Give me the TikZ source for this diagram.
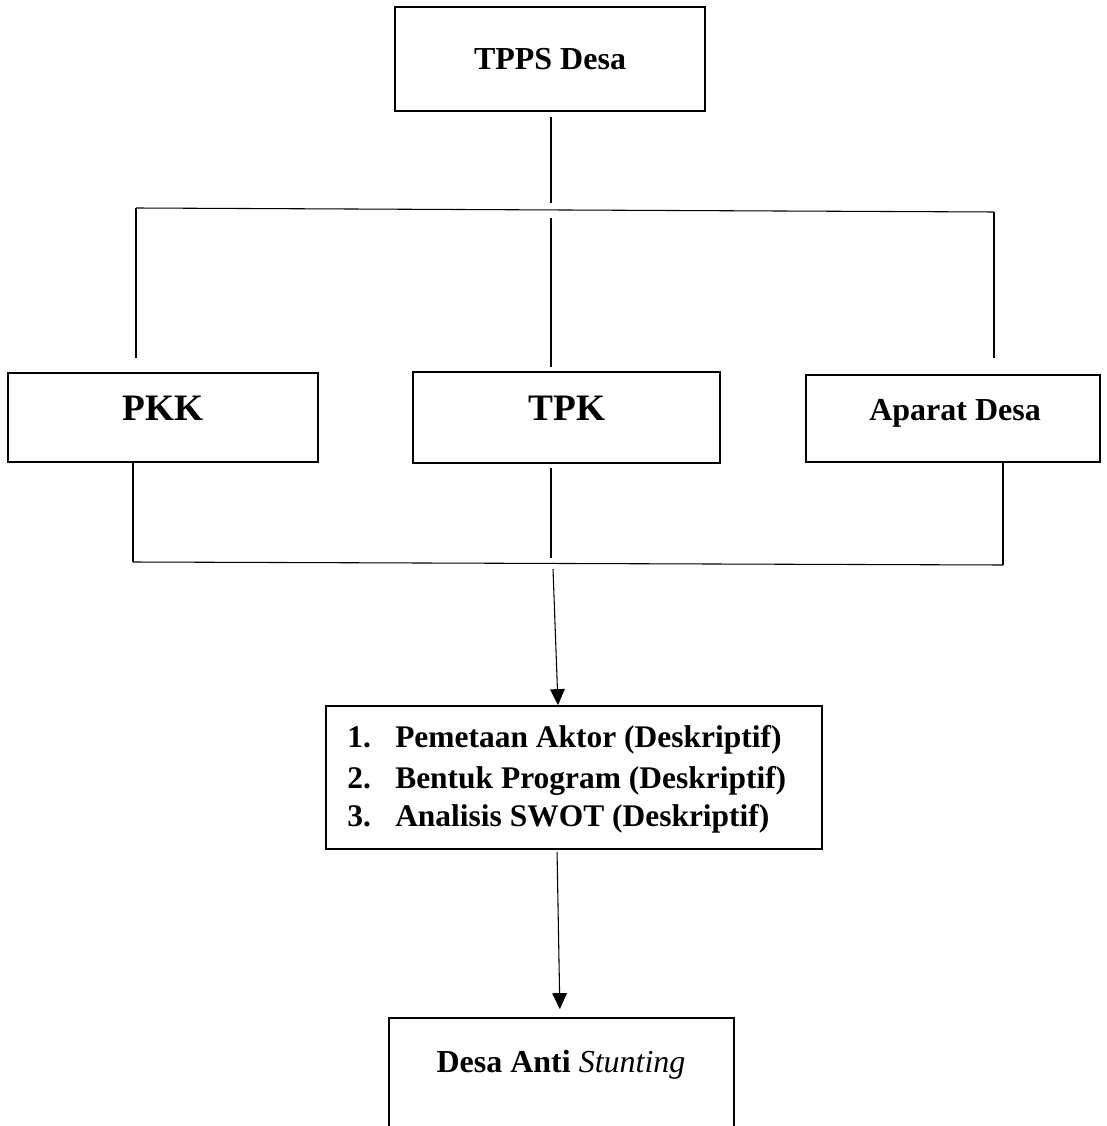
\documentclass[tikz,border=0pt]{standalone}
\usepackage{fontspec}
\setmainfont{Liberation Serif}
\usetikzlibrary{arrows.meta}
\begin{document}
\begin{tikzpicture}[x=0.75pt,y=-0.75pt,
  box/.style={draw, line width=1.3pt, inner sep=0pt},
  conn/.style={draw, line width=0.8pt},
  arr/.style={conn, -{Triangle[length=12pt,width=11pt]}},
  txt/.style={anchor=base, inner sep=0pt, font=\bfseries\fontsize{24}{29}\selectfont},
  big/.style={anchor=base, inner sep=0pt, font=\bfseries\fontsize{28}{34}\selectfont},
  lst/.style={anchor=base west, inner sep=0pt, font=\bfseries\fontsize{23.6}{29}\selectfont}]
\useasboundingbox (0,0) rectangle (1106,1126);
\clip (0,0) rectangle (1106,1126);
% boxes
\node[box, minimum width=310*0.75pt, minimum height=104*0.75pt] (tpps) at (550,59) {};
\node[box, minimum width=310*0.75pt, minimum height=89*0.75pt] (pkk) at (163,417.5) {};
\node[box, minimum width=307*0.75pt, minimum height=91*0.75pt] (tpk) at (566.5,417.5) {};
\node[box, minimum width=294*0.75pt, minimum height=87*0.75pt] (aparat) at (953,418.5) {};
\node[box, minimum width=496*0.75pt, minimum height=143*0.75pt] (analisis) at (574,777.5) {};
\node[box, minimum width=345*0.75pt, minimum height=117*0.75pt] (desa) at (561.5,1076.5) {};
% texts
\node[txt] (ttpps) at (550,70) {TPPS Desa};
\node[big] (tpkk) at (163,420) {PKK};
\node[big] (ttpk) at (567,420) {TPK};
\node[txt] (tapar) at (955,420) {Aparat Desa};
\node[lst] (n1) at (347,747) {1.};
\node[lst] (l1) at (395,747) {Pemetaan Aktor (Deskriptif)};
\node[lst] (n2) at (347,788) {2.};
\node[lst] (l2) at (395,788) {Bentuk Program (Deskriptif)};
\node[lst] (n3) at (347,826) {3.};
\node[lst] (l3) at (395,826) {Analisis SWOT (Deskriptif)};
\node[txt] (tdesa) at (561,1072) {Desa Anti \textit{\mdseries Stunting}};
% junction coordinates
\coordinate (busTL) at (136,208);
\coordinate (busTR) at (994,212);
\coordinate (busTM) at (551,203);
\coordinate (busTM2) at (551,218);
\coordinate (pkkUp) at (136,358);
\coordinate (aparUp) at (994,358);
\coordinate (busBL) at (133,562);
\coordinate (busBR) at (1003,565);
\coordinate (tpkDown) at (551,558);
\coordinate (arrStart) at (553,569);
% connectors
\draw[conn, shorten <=5*0.75pt] (tpps.south -| busTM) -- (busTM);
\draw[conn] (busTL) -- (busTR);
\draw[conn] (busTL) -- (pkkUp);
\draw[conn] (busTR) -- (aparUp);
\draw[conn, shorten >=4*0.75pt] (busTM2) -- (tpk.north -| busTM2);
\draw[conn] (pkk.south -| busBL) -- (busBL);
\draw[conn] (busBL) -- (busBR);
\draw[conn] (aparat.south -| busBR) -- (busBR);
\draw[conn, shorten <=4*0.75pt] (tpk.south -| tpkDown) -- (tpkDown);
\draw[arr] (arrStart) -- (analisis.north -| 558,0);
\draw[arr, shorten <=2*0.75pt, shorten >=8*0.75pt] (analisis.south -| 557,0) -- (desa.north -| 560,0);
\end{tikzpicture}
\end{document}
